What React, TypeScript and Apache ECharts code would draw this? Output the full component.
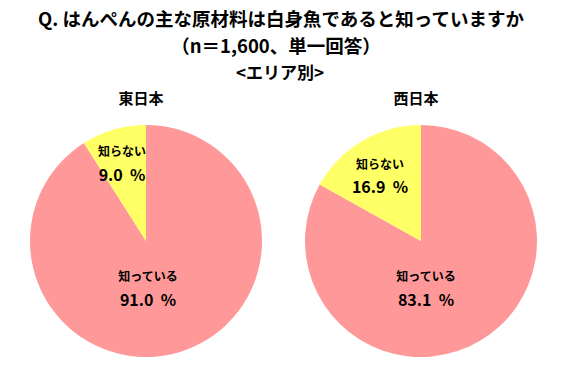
import React, { useEffect, useRef } from "react";
import * as echarts from "echarts";

const titleLines = [
  "Q. はんぺんの主な原材料は白身魚であると知っていますか",
  "（n＝1,600、単一回答）",
  "<エリア別>",
];
const areas = ["東日本", "西日本"];
const categories = ["知っている", "知らない"];
const eastValues = [91.0, 9.0];
const westValues = [83.1, 16.9];
const sliceColors = ["#FF9999", "#FFFF66"];

const FONT = '"Noto Sans CJK JP", "Noto Sans", sans-serif';

export default function App() {
  const ref = useRef<HTMLDivElement>(null);
  useEffect(() => {
    document.body.style.margin = "0";
    if (!ref.current) return;
    const chart = echarts.init(ref.current, null, { renderer: "svg" });
    const centers = [
      [146, 241],
      [421, 241],
    ];
    const valuesByArea = [eastValues, westValues];
    const labelPos = [
      [
        [148, 275, 299],
        [122, 150, 174],
      ],
      [
        [426, 275, 299],
        [380, 163, 186],
      ],
    ];
    const graphics: any[] = [];
    const titleX = [281, 276, 280];
    const titleY = [18, 45, 71];
    const titleSize = [18.5, 18.5, 17];
    titleLines.forEach((t, i) => {
      graphics.push({
        type: "text",
        x: titleX[i],
        y: titleY[i],
        style: {
          text: t,
          fill: "#000",
          font: `bold ${titleSize[i]}px ${FONT}`,
          textAlign: "center",
          textVerticalAlign: "middle",
        },
      });
    });
    areas.forEach((a, i) => {
      graphics.push({
        type: "text",
        x: centers[i][0] - 5,
        y: 97,
        style: {
          text: a,
          fill: "#000",
          font: `bold 15px ${FONT}`,
          textAlign: "center",
          textVerticalAlign: "middle",
        },
      });
    });
    valuesByArea.forEach((vals, ai) => {
      vals.forEach((v, ci) => {
        const p = labelPos[ai][ci];
        graphics.push({
          type: "text",
          x: p[0],
          y: p[1],
          z: 10,
          style: {
            text: categories[ci],
            fill: "#000",
            font: `bold 12px ${FONT}`,
            textAlign: "center",
            textVerticalAlign: "middle",
          },
        });
        graphics.push({
          type: "text",
          x: p[0],
          y: p[2],
          z: 10,
          style: {
            text: v.toFixed(1) + "  %",
            fill: "#000",
            font: `bold 16px ${FONT}`,
            textAlign: "center",
            textVerticalAlign: "middle",
          },
        });
      });
    });

    chart.setOption({
      animation: false,
      backgroundColor: "#fff",
      graphic: graphics,
      series: valuesByArea.map((vals, ai) => ({
        type: "pie",
        center: centers[ai],
        radius: 116,
        startAngle: 90,
        clockwise: true,
        silent: true,
        label: { show: false },
        labelLine: { show: false },
        emphasis: { disabled: true },
        itemStyle: { borderWidth: 0 },
        data: vals.map((v, ci) => ({
          name: categories[ci],
          value: v,
          itemStyle: { color: sliceColors[ci] },
        })),
      })),
    });
    return () => chart.dispose();
  }, []);
  return <div ref={ref} style={{ width: 566, height: 385 }} />;
}
